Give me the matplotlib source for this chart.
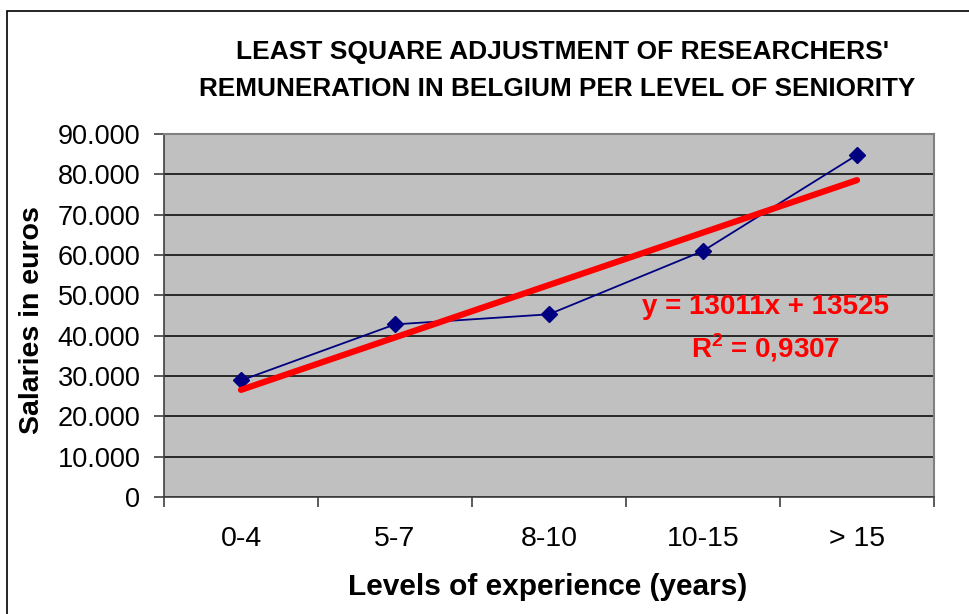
import matplotlib
matplotlib.use("Agg")
import matplotlib.pyplot as plt
import numpy as np
from matplotlib.patches import Rectangle

categories = ["0-4", "5-7", "8-10", "10-15", "> 15"]
salaries = [28900, 42800, 45300, 61000, 84800]
yticks = [0, 10000, 20000, 30000, 40000, 50000, 60000, 70000, 80000, 90000]
ytick_labels = ["0", "10.000", "20.000", "30.000", "40.000", "50.000",
                "60.000", "70.000", "80.000", "90.000"]
equation_text = "y = 13011x + 13525"
r2_text = "R$^{\\mathregular{2}}$ = 0,9307"

plt.rcParams['font.family'] = ['Liberation Sans', 'DejaVu Sans']

fig = plt.figure(figsize=(9.70, 6.14), dpi=100)
fig.patch.set_facecolor("white")

W, H = 970, 614
# outer chart frame
fig.patches.append(Rectangle((7 / W, -0.1), 1.2, 1 - 11 / H + 0.1,
                             transform=fig.transFigure, fill=False,
                             edgecolor="black", linewidth=1.2, zorder=0))

left, right, top, bottom = 164, 934, 134, 497
ax = fig.add_axes([left / W, 1 - bottom / H, (right - left) / W, (bottom - top) / H])
ax.set_facecolor("#C0C0C0")

x = np.arange(1, len(categories) + 1)
ax.set_xlim(0.5, len(categories) + 0.5)
ax.set_ylim(0, 90000)

ax.set_yticks(yticks)
ax.set_yticklabels(ytick_labels, fontsize=19.5)
ax.yaxis.grid(True, color="black", linewidth=1.1)
ax.set_axisbelow(True)

ax.set_xticks(np.arange(0.5, len(categories) + 1, 1.0))
ax.set_xticklabels([])
ax.set_xticks(x, minor=True)
ax.set_xticklabels(categories, minor=True, fontsize=20.5)
ax.tick_params(axis="x", which="minor", length=0, pad=21)
ax.tick_params(axis="x", which="major", length=7, width=1.2, color="#404040")
ax.tick_params(axis="y", length=7, width=1.2, color="#404040", pad=10)

for s in ["top", "right"]:
    ax.spines[s].set_color("#808080")
    ax.spines[s].set_linewidth(1.5)
for s in ["left", "bottom"]:
    ax.spines[s].set_color("#404040")
    ax.spines[s].set_linewidth(1.2)

ax.plot(x, salaries, color="#000080", linewidth=1.3, marker="D",
        markersize=8.5, markerfacecolor="#000080", markeredgecolor="#000080", zorder=3)

coef = np.polyfit(x, salaries, 1)
ax.plot(x, np.polyval(coef, x), color="#FF0000", linewidth=4.5, solid_capstyle="round", zorder=4)

fig.text(766 / W, 1 - 307 / H, equation_text, fontsize=20, fontweight="bold",
         color="#FF0000", ha="center", va="center")
fig.text(766 / W, 1 - 348 / H, r2_text, fontsize=20, fontweight="bold",
         color="#FF0000", ha="center", va="center")

fig.text(562 / W, 1 - 52 / H, "LEAST SQUARE ADJUSTMENT OF RESEARCHERS'",
         fontsize=19, fontweight="bold", ha="center", va="center")
fig.text(557 / W, 1 - 89 / H, "REMUNERATION IN BELGIUM PER LEVEL OF SENIORITY",
         fontsize=18.8, fontweight="bold", ha="center", va="center")

fig.text(548 / W, 1 - 587 / H, "Levels of experience (years)",
         fontsize=21.5, fontweight="bold", ha="center", va="center")
fig.text(32 / W, 1 - 320 / H, "Salaries in euros", rotation=90,
         fontsize=20.5, fontweight="bold", ha="center", va="center")

fig.savefig("out.png", dpi=100)
